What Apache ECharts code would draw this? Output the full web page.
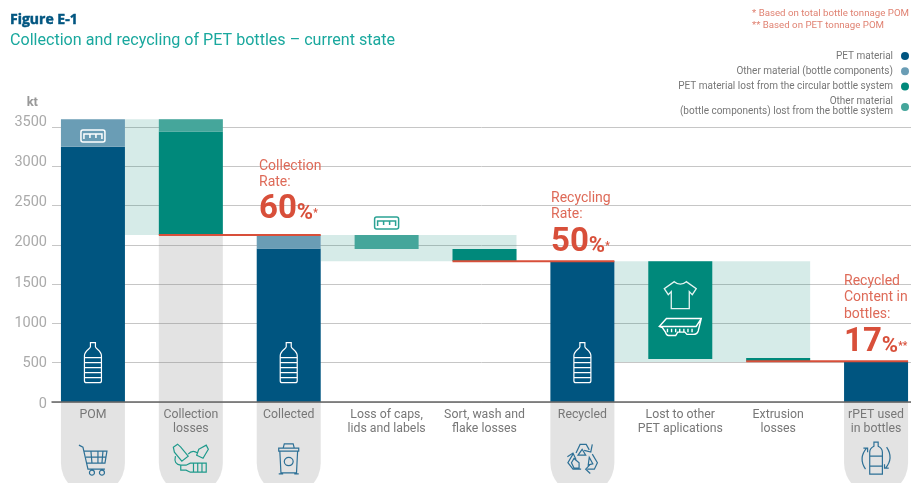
<!DOCTYPE html>
<html><head><meta charset="utf-8">
<script src="https://cdn.jsdelivr.net/npm/echarts@6/dist/echarts.min.js"></script>
<style>html,body{margin:0;padding:0;background:#fff}#c{width:911px;height:483px}</style>
</head><body><div id="c"></div>
<script>
const categories = ['POM','Collection\nlosses','Collected','Loss of caps,\nlids and labels','Sort, wash and\nflake losses','Recycled','Lost to other\nPET aplications','Extrusion\nlosses','rPET used\nin bottles'];
const yTicks = [0,500,1000,1500,2000,2500,3000,3500];
const floatBase     = [0,2125,0,1946,1794,0,547,520,0];
const petMaterial   = [3250,0,1955,0,0,1790,0,0,520];
const otherMaterial = [350,0,170,0,0,0,0,0,0];
const petLost       = [0,1315,0,0,152,0,1243,40,0];
const otherLost     = [0,160,0,179,0,0,0,0,0];
// light connector bands: from category, to category, low, high
const bands = [[0,1,2125,3600],[2,4,1790,2125],[5,7,510,1790]];
// red rate lines: from category, to category, value
const rateLines = [[1,2,2125],[4,5,1790],[7,8,520]];
// grey columns: category, top value
const greyColumns = [[0,0],[1,2125],[2,0],[5,0],[8,0]];
const pillBottom = -1183;
const iconMarks = [
 [0,500,'bottle'],[2,500,'bottle'],[5,500,'bottle'],
 [0,3385,'cap'],[3,2277,'capTeal'],
 [6,1360,'shirt'],[6,954,'tray'],
 [0,-740,'cart'],[1,-715,'waste'],[2,-725,'bin'],[5,-725,'recycle'],[8,-715,'cycle']
];
const BLUE='#005580', TEAL='#00897b', RED='#d84f3a';
const iconDefs = {
 bottle:{w:17,h:40,c:'#fff',lw:1.2,d:'M6 0H11V4C11 6 17 8 17 13V38Q17 40 15 40H2Q0 40 0 38V13C0 8 6 6 6 4ZM0 15H17M0 20H17M0 25H17M0 30H17M0 35H17'},
 cap:{w:24,h:12,c:'#fff',lw:1.5,d:'M2 0H22Q24 0 24 2V10Q24 12 22 12H2Q0 12 0 10V2Q0 0 2 0ZM3 9V4H21V9M9 4V8M15 4V8'},
 capTeal:{w:24,h:12,c:'#2ba294',lw:1.5,d:'M2 0H22Q24 0 24 2V10Q24 12 22 12H2Q0 12 0 10V2Q0 0 2 0ZM3 9V4H21V9M9 4V8M15 4V8'},
 shirt:{w:32,h:27,c:'#e6f4f2',lw:1.3,d:'M10 0Q16 5 22 0L32 7L28 13L25 10V27H7V10L4 13L0 7Z'},
 tray:{w:42,h:17,c:'#fff',lw:1.4,d:'M0 8L7 1H41L38 12Q37 15 33 15H27L25 13H18L16 16H9Q7 16 6 13L3 9ZM1 8H36L41 1M8 10V13M12 10V13M16 10V13M20 10V13M24 10V13M28 10V13M32 10V13'},
 cart:{w:28,h:30,c:'#2d7096',lw:1.2,d:'M0 0L4 2L9 24H26M5 6H28L26 18H8M12 6L13 18M19 6V18M24 6L23 18M7 12H27M13 25a2.5 2.5 0 1 0 .01 0M23 25a2.5 2.5 0 1 0 .01 0'},
 waste:{w:35,h:28,c:'#1f9a8c',lw:1.2,d:'M2 3L6 0L9 3L16 12L10 17L3 8ZM26 5L33 1L35 5L30 14L24 11ZM9 21H14L18 19H33V28H18L14 26H9ZM21 19V28M25 19V28M29 19V28M4 12Q2 20 9 21M16 10Q20 5 25 9'},
 bin:{w:20,h:30,c:'#2d7096',lw:1.2,d:'M5 4L6 0H14L15 4M1 4H19V7H1ZM2 7L3 28H17L18 7M1 29H5M15 29H19M10 13a4 4 0 1 0 .01 0'},
 recycle:{w:30,h:29,c:'#2d7096',lw:1.2,d:'M9 11L13 3H19L22 8M25 3L23.5 10L17 8.5M11 13L15 7.5L18.5 13ZM25 12L30 20L27 26H20M23 21.5L18.5 26L23 30M22 15L25.5 21L21 22ZM14 26H6L1 20L6 12M0.5 14.5L6 11L9 17M12 20V25H7L4.5 20L7 16Z'},
 cycle:{w:28,h:32,c:'#2d7096',lw:1.2,d:'M12 0H16V4Q20 6 20 10V32H8V10Q8 6 12 4ZM8 14H20M8 24H20M5 6Q-3 16 4 27M2 6H6V10M23 26Q31 16 24 5M26 26H22V22'}
};
const legendNames = ['PET material','Other material (bottle components)','PET material lost from the circular bottle system','Other material\n(bottle components) lost from the bottle system'];
const FONT='Roboto';
const BW=64;
function redText(s,x,y,sz){return {type:'text',x:x,y:y,z:20,style:{text:s,fill:'#de6a58',font:sz+'px '+FONT,lineHeight:16.5}};}
function bigText(n,st,x,y){return {type:'text',x:x,y:y,z:20,style:{text:'{a|'+n+'}{b|%}{c|'+st+'}',rich:{
 a:{fill:RED,font:'bold 33px '+FONT},b:{fill:RED,font:'bold 22px '+FONT,padding:[7,0,0,0]},c:{fill:RED,font:'bold 10px '+FONT,padding:[7,0,0,0]}}}};}
const chart=echarts.init(document.getElementById('c'),null,{renderer:'canvas'});
chart.setOption({
 animation:false,
 backgroundColor:'#fff',
 textStyle:{fontFamily:FONT},
 title:[
  {text:'Figure E-1',left:10,top:13,padding:0,textStyle:{fontFamily:'Open Sans',fontWeight:'bold',fontSize:14,color:BLUE,textBorderColor:BLUE,textBorderWidth:0.5}},
  {text:'Collection and recycling of PET bottles – current state',left:10,top:33,padding:0,textStyle:{fontFamily:FONT,fontWeight:'normal',fontSize:16.1,color:'#1aa89e'}},
  {text:'* Based on total bottle tonnage POM\n** Based on PET tonnage POM',right:2,top:8,padding:0,textStyle:{fontFamily:FONT,fontWeight:'normal',fontSize:9.7,lineHeight:12,color:'#e08272',align:'right'}}
 ],
 legend:{orient:'vertical',right:2,top:51,align:'right',padding:0,itemWidth:8,itemHeight:8,itemGap:5.3,selectedMode:false,icon:'circle',
  data:legendNames,textStyle:{fontFamily:FONT,fontSize:10,color:'#777',lineHeight:10,padding:[0,3,0,0]}},
 grid:[
  {left:52,right:0,top:127,bottom:81,outerBoundsMode:'none'},
  {left:44,width:881,top:87.7,bottom:81,outerBoundsMode:'none'},
  {left:52,right:0,top:122,bottom:79,outerBoundsMode:'none'}
 ],
 xAxis:[
  {gridIndex:0,type:'value',min:0,max:1,z:10,splitLine:{show:false},axisTick:{show:false},axisLabel:{show:false},axisLine:{show:true,onZero:false,lineStyle:{color:'#666',width:1.5}}},
  {gridIndex:1,type:'category',data:categories,z:10,axisLine:{show:false},axisTick:{show:false},axisLabel:{interval:0,margin:6,color:'#777',fontSize:12.3,lineHeight:14,fontFamily:FONT}},
  {gridIndex:2,type:'value',show:false,min:0,max:1}
 ],
 yAxis:[
  {gridIndex:0,type:'value',min:0,max:3500,interval:500,axisLine:{show:false},axisTick:{show:false},axisLabel:{show:false},splitLine:{show:true,lineStyle:{color:'#c6c6c6',width:1}}},
  {gridIndex:1,type:'value',min:0,max:4000,show:false,splitLine:{show:false}},
  {gridIndex:2,type:'value',min:0,max:3500,interval:500,name:'kt',nameLocation:'end',nameGap:13,
   nameTextStyle:{color:'#999',fontSize:13,fontWeight:'bold',fontFamily:FONT,align:'right',padding:[0,14,0,0]},
   axisLine:{show:false},axisTick:{show:false},splitLine:{show:false},
   axisLabel:{margin:5,color:'#aaa',fontSize:14.5,fontFamily:FONT,formatter:v=>yTicks.includes(v)?String(v):''}}
 ],
 series:[
  {type:'custom',name:'greyColumns',xAxisIndex:1,yAxisIndex:1,z:1,silent:true,clip:false,encode:{x:0,y:1},data:greyColumns,
   renderItem:(p,api)=>{const t=api.coord([api.value(0),api.value(1)]),b=api.coord([api.value(0),pillBottom]);
    return {type:'rect',shape:{x:t[0]-BW/2,y:t[1],width:BW,height:b[1]-t[1],r:[0,0,32,32]},style:{fill:'rgba(125,125,125,0.21)'}};}},
  {type:'custom',name:'bands',xAxisIndex:1,yAxisIndex:1,z:1,silent:true,clip:false,encode:{x:0,y:3},data:bands,
   renderItem:(p,api)=>{const a=api.coord([api.value(0),api.value(3)]),b=api.coord([api.value(1),api.value(2)]);
    return {type:'rect',shape:{x:a[0]+BW/2,y:a[1],width:b[0]-a[0],height:b[1]-a[1]},style:{fill:'rgba(0,128,115,0.16)'}};}},
  {type:'bar',name:'base',xAxisIndex:1,yAxisIndex:1,stack:'s',barWidth:BW,silent:true,itemStyle:{color:'rgba(0,0,0,0)'},data:floatBase},
  {type:'bar',name:legendNames[0],xAxisIndex:1,yAxisIndex:1,stack:'s',barWidth:BW,itemStyle:{color:BLUE},data:petMaterial},
  {type:'bar',name:legendNames[1],xAxisIndex:1,yAxisIndex:1,stack:'s',barWidth:BW,itemStyle:{color:'#6a9db5',opacity:1},data:otherMaterial},
  {type:'bar',name:legendNames[2],xAxisIndex:1,yAxisIndex:1,stack:'s',barWidth:BW,itemStyle:{color:TEAL},data:petLost},
  {type:'bar',name:legendNames[3],xAxisIndex:1,yAxisIndex:1,stack:'s',barWidth:BW,itemStyle:{color:'#45a69b'},data:otherLost},
  {type:'custom',name:'rateLines',xAxisIndex:1,yAxisIndex:1,z:5,silent:true,clip:false,encode:{x:0,y:2},data:rateLines,
   renderItem:(p,api)=>{const a=api.coord([api.value(0),api.value(2)]),b=api.coord([api.value(1),api.value(2)]);
    return {type:'line',shape:{x1:a[0]-BW/2,y1:a[1],x2:b[0]+BW/2,y2:b[1]},style:{stroke:RED,lineWidth:2}};}},
  {type:'custom',name:'icons',xAxisIndex:1,yAxisIndex:1,z:6,silent:true,clip:false,encode:{x:0,y:1},data:iconMarks.map(m=>[m[0],m[1]]),
   renderItem:(p,api)=>{const d=iconDefs[iconMarks[p.dataIndex][2]],c=api.coord([api.value(0),api.value(1)]);
    return {type:'path',shape:{pathData:d.d,x:c[0]-d.w/2,y:c[1]-d.h/2,width:d.w,height:d.h,layout:'cover'},style:{fill:'none',stroke:d.c,lineWidth:d.lw}};}}
 ],
 graphic:[
  redText('Collection\nRate:',259,158,14),bigText('60','*',259,193),
  redText('Recycling\nRate:',551,190,14),bigText('50','*',551,226),
  redText('Recycled\nContent in\nbottles:',844,273,14),bigText('17','**',844,326)
 ]
});
</script></body></html>
